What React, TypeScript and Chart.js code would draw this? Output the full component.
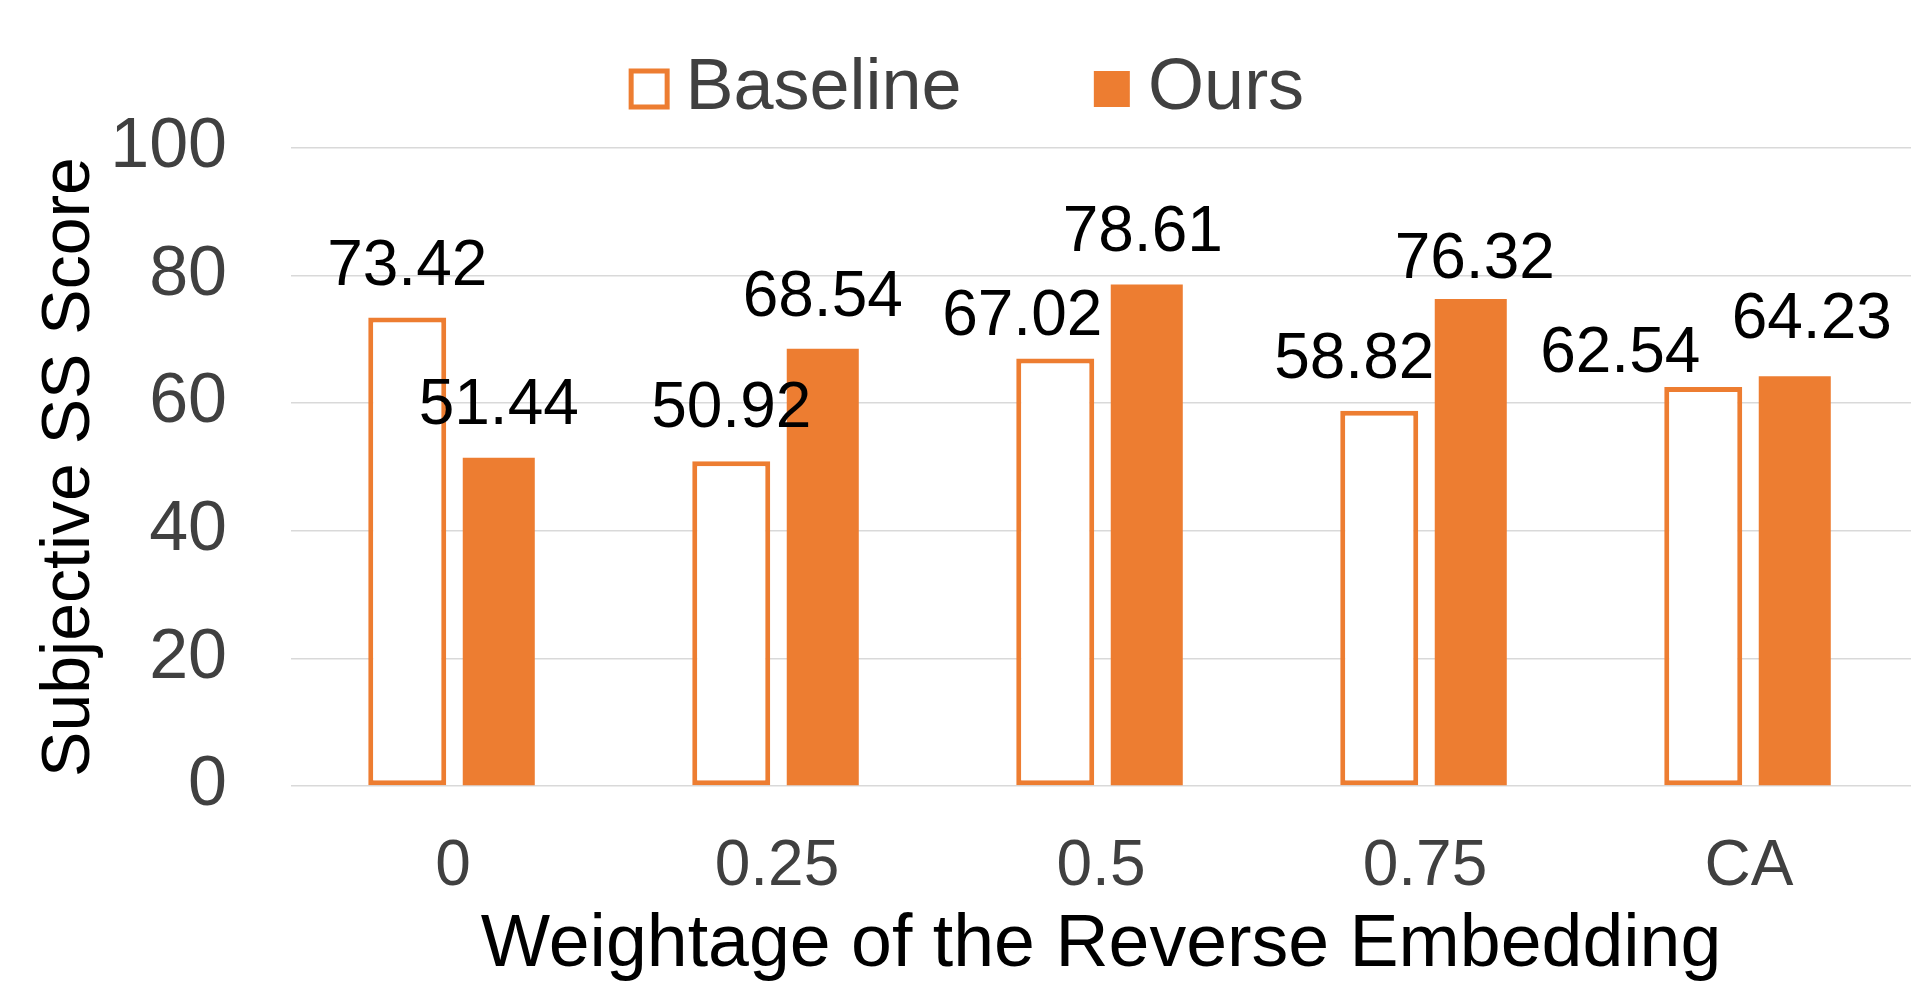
import React, { useEffect, useRef } from "react";
import { Chart, registerables } from "chart.js";

Chart.register(...registerables);

const categories = ["0", "0.25", "0.5", "0.75", "CA"];
const seriesNames = ["Baseline", "Ours"];
const baselineValues = [73.42, 50.92, 67.02, 58.82, 62.54];
const oursValues = [51.44, 68.54, 78.61, 76.32, 64.23];
const yTickValues = [0, 20, 40, 60, 80, 100];
const xAxisTitle = "Weightage of the Reverse Embedding";
const yAxisTitle = "Subjective SS Score";

const FONT = '"Liberation Sans", Arial, Helvetica, sans-serif';
const ORANGE = "#ED7D31";

// manual nudges of the value labels (as in the reference)
const labelNudges = [
  { dx: [0, 0, -33, -25, -83], gap: [33, 34, 23, 33, 15] },
  { dx: [0, 0, -4, 4, 17], gap: [34, 33, 33, 21, 38] },
];

const valueLabelPlugin = {
  id: "valueLabels",
  afterDatasetsDraw(chart: any) {
    const ctx = chart.ctx;
    ctx.save();
    ctx.font = `64px ${FONT}`;
    ctx.fillStyle = "#000000";
    ctx.textAlign = "center";
    ctx.textBaseline = "alphabetic";
    chart.data.datasets.forEach((ds: any, di: number) => {
      const meta = chart.getDatasetMeta(di);
      if (meta.hidden) return;
      meta.data.forEach((el: any, i: number) => {
        const v = ds.data[i];
        const n = labelNudges[di];
        ctx.fillText(v.toFixed(2), el.x + n.dx[i], el.y - n.gap[i]);
      });
    });
    ctx.restore();
  },
};

export default function App() {
  const canvasRef = useRef<HTMLCanvasElement | null>(null);

  useEffect(() => {
    if (!canvasRef.current) return;
    const chart = new Chart(canvasRef.current, {
      type: "bar",
      data: {
        labels: categories,
        datasets: [
          {
            label: seriesNames[0],
            data: baselineValues,
            backgroundColor: "#FFFFFF",
            borderColor: ORANGE,
            borderWidth: 5,
            borderSkipped: false,
            barPercentage: 0.852,
            categoryPercentage: 0.565,
          },
          {
            label: seriesNames[1],
            data: oursValues,
            backgroundColor: ORANGE,
            borderColor: ORANGE,
            borderWidth: 0,
            barPercentage: 0.787,
            categoryPercentage: 0.565,
          },
        ],
      },
      options: {
        animation: false,
        responsive: true,
        maintainAspectRatio: false,
        layout: { padding: { top: -105, left: 34, right: 6, bottom: 0 } },
        plugins: {
          legend: {
            position: "top",
            align: "center",
            labels: {
              usePointStyle: true,
              pointStyle: "rect",
              boxWidth: 0.5,
              boxHeight: 36,
              padding: 150,
              color: "#404040",
              font: { family: FONT, size: 72 },
            },
          },
          subtitle: {
            display: true,
            text: "",
            position: "top",
            weight: 500,
            padding: 0,
            font: { size: 10, lineHeight: "13px" },
          },
          title: { display: false },
          tooltip: { enabled: false },
        },
        scales: {
          x: {
            grid: { display: false },
            border: { display: false },
            ticks: {
              color: "#404040",
              padding: 35,
              font: { family: FONT, size: 64, lineHeight: 1.2 },
            },
            title: {
              display: true,
              text: xAxisTitle,
              color: "#000000",
              padding: { top: 0, bottom: 5 },
              font: { family: FONT, size: 73.5, lineHeight: 1.2 },
            },
            afterFit: (scale: any) => {
              scale.height = 209;
            },
          },
          y: {
            min: yTickValues[0],
            max: yTickValues[yTickValues.length - 1],
            afterBuildTicks: (scale: any) => {
              scale.ticks = yTickValues.map((v) => ({ value: v }));
            },
            grid: { color: "#D9D9D9", lineWidth: 1.5, drawTicks: false },
            border: { display: false },
            ticks: {
              color: "#404040",
              padding: 64,
              font: { family: FONT, size: 70, lineHeight: 1.2 },
            },
            title: {
              display: true,
              text: yAxisTitle,
              color: "#000000",
              padding: 0,
              font: { family: FONT, size: 68, lineHeight: 0.82 },
            },
            afterFit: (scale: any) => {
              scale.width = 249;
            },
          },
        },
      },
      plugins: [valueLabelPlugin],
    });
    return () => chart.destroy();
  }, []);

  return (
    <div style={{ position: "relative", width: "100%", height: "987px" }}>
      <canvas ref={canvasRef} />
    </div>
  );
}
